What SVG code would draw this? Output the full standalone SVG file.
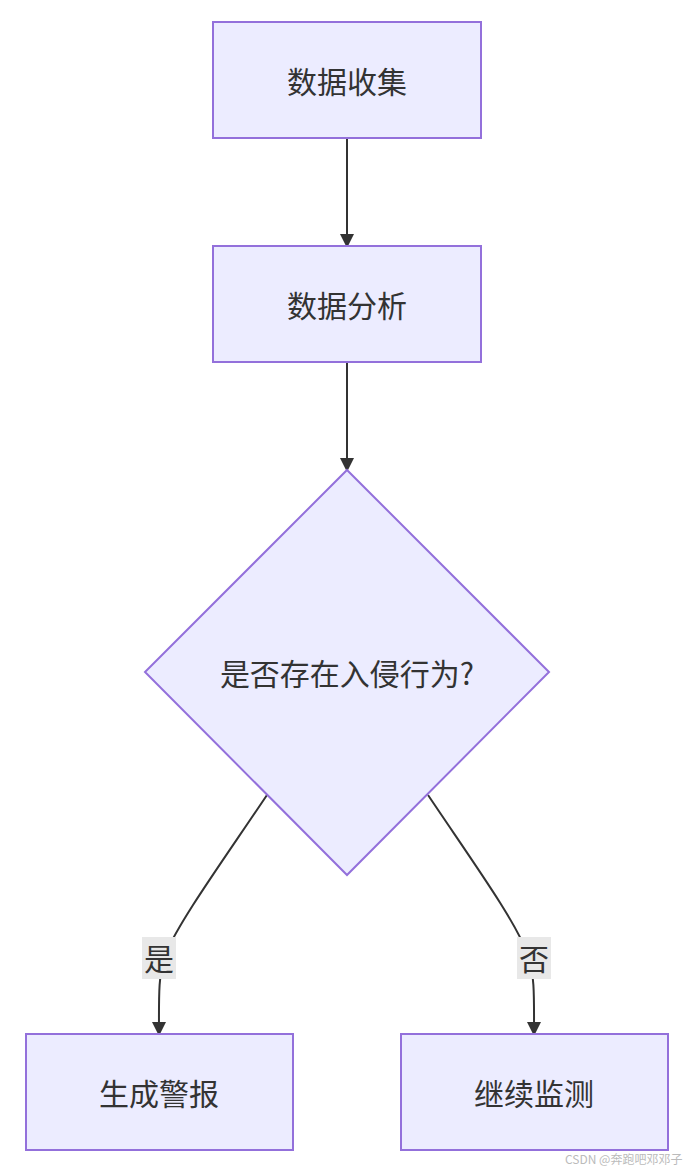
<svg xmlns="http://www.w3.org/2000/svg" width="694" height="1173" viewBox="0 0 694 1173">
<style>
.n{fill:#ECECFF;stroke:#9370DB;stroke-width:2}
.t{font-family:"Noto Sans CJK SC","Noto Sans",sans-serif;font-size:30px;fill:#333;text-anchor:middle;dominant-baseline:central}
.e{fill:none;stroke:#333;stroke-width:2}
.lb{fill:#e8e8e8}
</style>
<defs><marker id="a" markerWidth="10" markerHeight="10" refX="9" refY="5" orient="auto" markerUnits="userSpaceOnUse"><path d="M0,0L10,5L0,10z" fill="#333"/></marker>
<marker id="b" markerWidth="14" markerHeight="14" refX="12" refY="7" orient="auto" markerUnits="userSpaceOnUse"><path d="M0,0L14,7L0,14z" fill="#333"/></marker></defs>
<rect width="694" height="1173" fill="#fff"/>
<g id="edges">
<path class="e" d="M347,138V246" marker-end="url(#b)"/>
<path class="e" d="M347,362Q347,420 347,470" marker-end="url(#b)"/>
<path class="e" d="M267,795C220,865 180,920 165,955C158,975 159,1000 159,1034" marker-end="url(#b)"/>
<path class="e" d="M428,795C475,865 515,920 528,955C535,975 534,1000 534,1034" marker-end="url(#b)"/>
<rect class="lb" x="142" y="937" width="34" height="42"/>
<text class="t" x="159" y="957">是</text>
<rect class="lb" x="517" y="937" width="34" height="42"/>
<text class="t" x="534" y="957">否</text>
</g>
<g id="n1"><rect class="n" x="213" y="22" width="268" height="116"/><text class="t" x="347" y="80">数据收集</text></g>
<g id="n2"><rect class="n" x="213" y="246" width="268" height="116"/><text class="t" x="347" y="304">数据分析</text></g>
<g id="n3"><path class="n" d="M347,470L549,672L347,875L145,672Z"/><text class="t" x="347" y="672">是否存在入侵行为?</text></g>
<g id="n4"><rect class="n" x="26" y="1034" width="267" height="116"/><text class="t" x="159" y="1092">生成警报</text></g>
<g id="n5"><rect class="n" x="401" y="1034" width="267" height="116"/><text class="t" x="534" y="1092">继续监测</text></g>
<text x="565" y="1164" font-family="'Noto Sans CJK SC',sans-serif" font-size="12" fill="#bbb">CSDN @奔跑吧邓邓子</text>
</svg>
